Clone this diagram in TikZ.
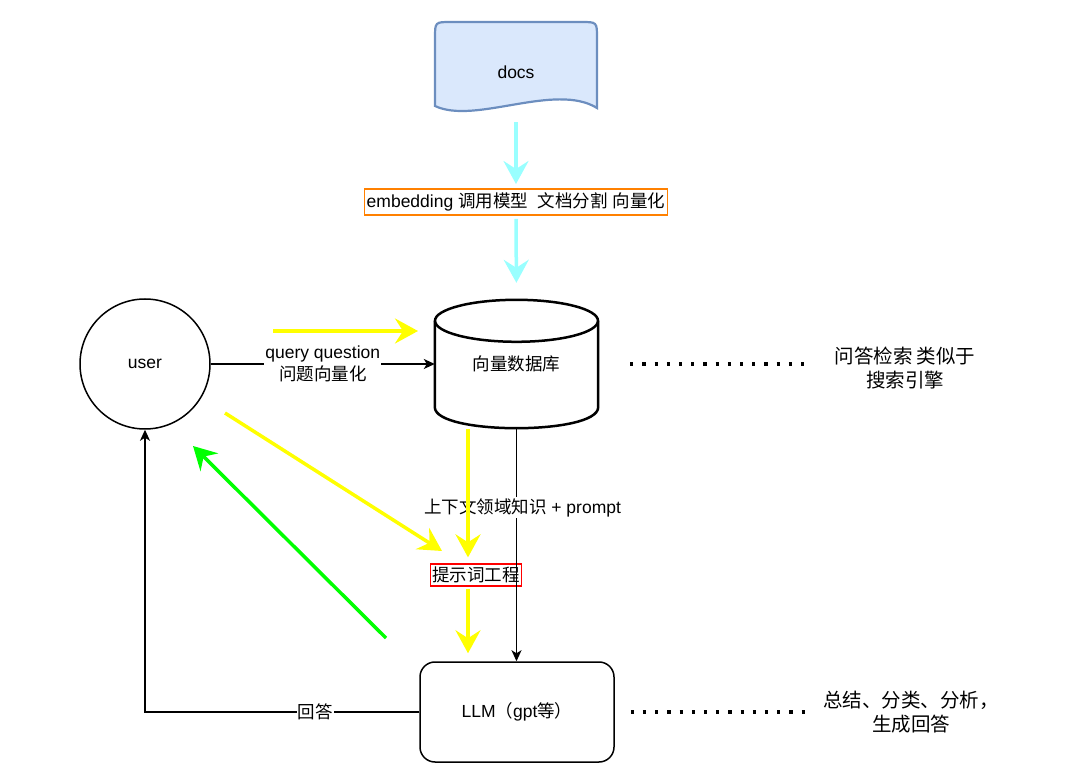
\documentclass[tikz,border=0pt]{standalone}
\usepackage{fontspec}
\setmainfont{Liberation Sans}
\newfontfamily\cjk{Noto Sans CJK SC}
\newcommand{\zh}[1]{{\cjk #1}}
\usetikzlibrary{arrows.meta,calc,positioning}
\definecolor{docfill}{HTML}{DAE8FC}
\definecolor{docline}{HTML}{6C8EBF}
\definecolor{embcyan}{HTML}{99FFFF}
\definecolor{hiyellow}{HTML}{FFFF00}
\definecolor{higreen}{HTML}{00FF00}
\definecolor{boxorange}{HTML}{FF8000}
\tikzset{
	conn/.style={line width=1.5pt, -{Stealth[length=11pt,width=10pt,inset=3pt]}},
	fat/.style={line width=3.5pt, -{Stealth[length=23pt,width=25pt,inset=8pt]}},
	lbl/.style={fill=white, inner sep=1pt, align=center},
	dots/.style={line width=3.2pt, dash pattern=on 3.2pt off 9pt},
	note/.style={align=center, font=\fontsize{19.5}{24}\selectfont},
	db/.style={line width=2.5pt},
}
\begin{document}
\begin{tikzpicture}[x=1pt, y=-1pt, font=\fontsize{17.5}{22}\selectfont]
	\useasboundingbox (0,0) rectangle (1080,775);
	\draw[docline, fill=docfill, line width=2.2pt] (597,108) .. controls (555,82) and (475,125) .. (435,106) -- (435,38) .. controls (435,22) .. (451,22) -- (581,22) .. controls (597,22) .. (597,38) -- cycle;
	\node[minimum width=162pt, minimum height=100pt] (docs) at (516,72) {docs};
	\node[draw=boxorange, line width=1.5pt, inner xsep=2pt, inner ysep=4pt] (emb) at (516,202) {embedding \zh{调用模型}\ \ \zh{文档分割} \zh{向量化}};
	\node[minimum width=163pt, minimum height=128pt] (vdb) at (516.5,364) {\zh{向量数据库}};
	\draw[db] (vdb.north) ++(0,21) ellipse [x radius=81.5, y radius=21];
	\draw[db] ([yshift=-21pt]vdb.north west) -- ([yshift=21pt]vdb.south west) .. controls +(0,28) and +(0,28) .. ([yshift=21pt]vdb.south east) -- ([yshift=-21pt]vdb.north east);
	\node[draw, circle, line width=1.5pt, minimum size=130pt] (user) at (145,364) {user};
	\node[draw=red, line width=1.2pt, inner xsep=2pt, inner ysep=3pt] (prompt) at (476,575) {\zh{提示词工程}};
	\node[draw, rounded corners=15pt, line width=1.5pt, minimum width=194pt, minimum height=100pt] (llm) at (517,712) {LLM\zh{（}gpt\zh{等）}};
	\node[note] (qa) at (905,368) {\zh{问答检索 类似于}\\\zh{搜索引擎}};
	\node[note] (sum) at (911,712) {\zh{总结、分类、分析，}\\\zh{生成回答}};

	\draw[fat, embcyan, shorten >=4pt] (docs.south) -- (emb.north);
	\draw[fat, embcyan, shorten <=3pt, shorten >=17pt] (emb.south) -- (vdb.north);
	\draw[conn] (user.east) -- node[lbl] {query question\\\zh{问题向量化}} (vdb.west);
	\draw[conn] (vdb.south) -- node[lbl, pos=0.34, xshift=6pt] {\zh{上下文领域知识} + prompt} (vdb.south |- llm.north);
	\draw[conn] (llm.west) -| node[lbl, pos=0.19] {\zh{回答}} (user.south);
	\draw[dots, shorten <=32pt, shorten >=21pt] (vdb.east) -- (vdb.east -| qa.west);
	\draw[dots, shorten <=16pt, shorten >=7pt] (llm.east) -- (llm.east -| sum.west);

	\coordinate (ask0) at (273,331);
	\coordinate (ask1) at (418,331);
	\coordinate (cue0) at (225,413);
	\coordinate (cue1) at (442,551);
	\coordinate (ctx0) at (468,429);
	\coordinate (gen0) at (386,638);
	\coordinate (gen1) at (193,446);
	\draw[fat, hiyellow] (ask0) -- (ask1);
	\draw[fat, hiyellow] (cue0) -- (cue1);
	\draw[fat, hiyellow, shorten >=6pt] (ctx0) -- (ctx0 |- prompt.north);
	\draw[fat, hiyellow, shorten <=2pt, shorten >=8pt] (ctx0 |- prompt.south) -- (ctx0 |- llm.north);
	\draw[fat, higreen] (gen0) -- (gen1);
\end{tikzpicture}
\end{document}
